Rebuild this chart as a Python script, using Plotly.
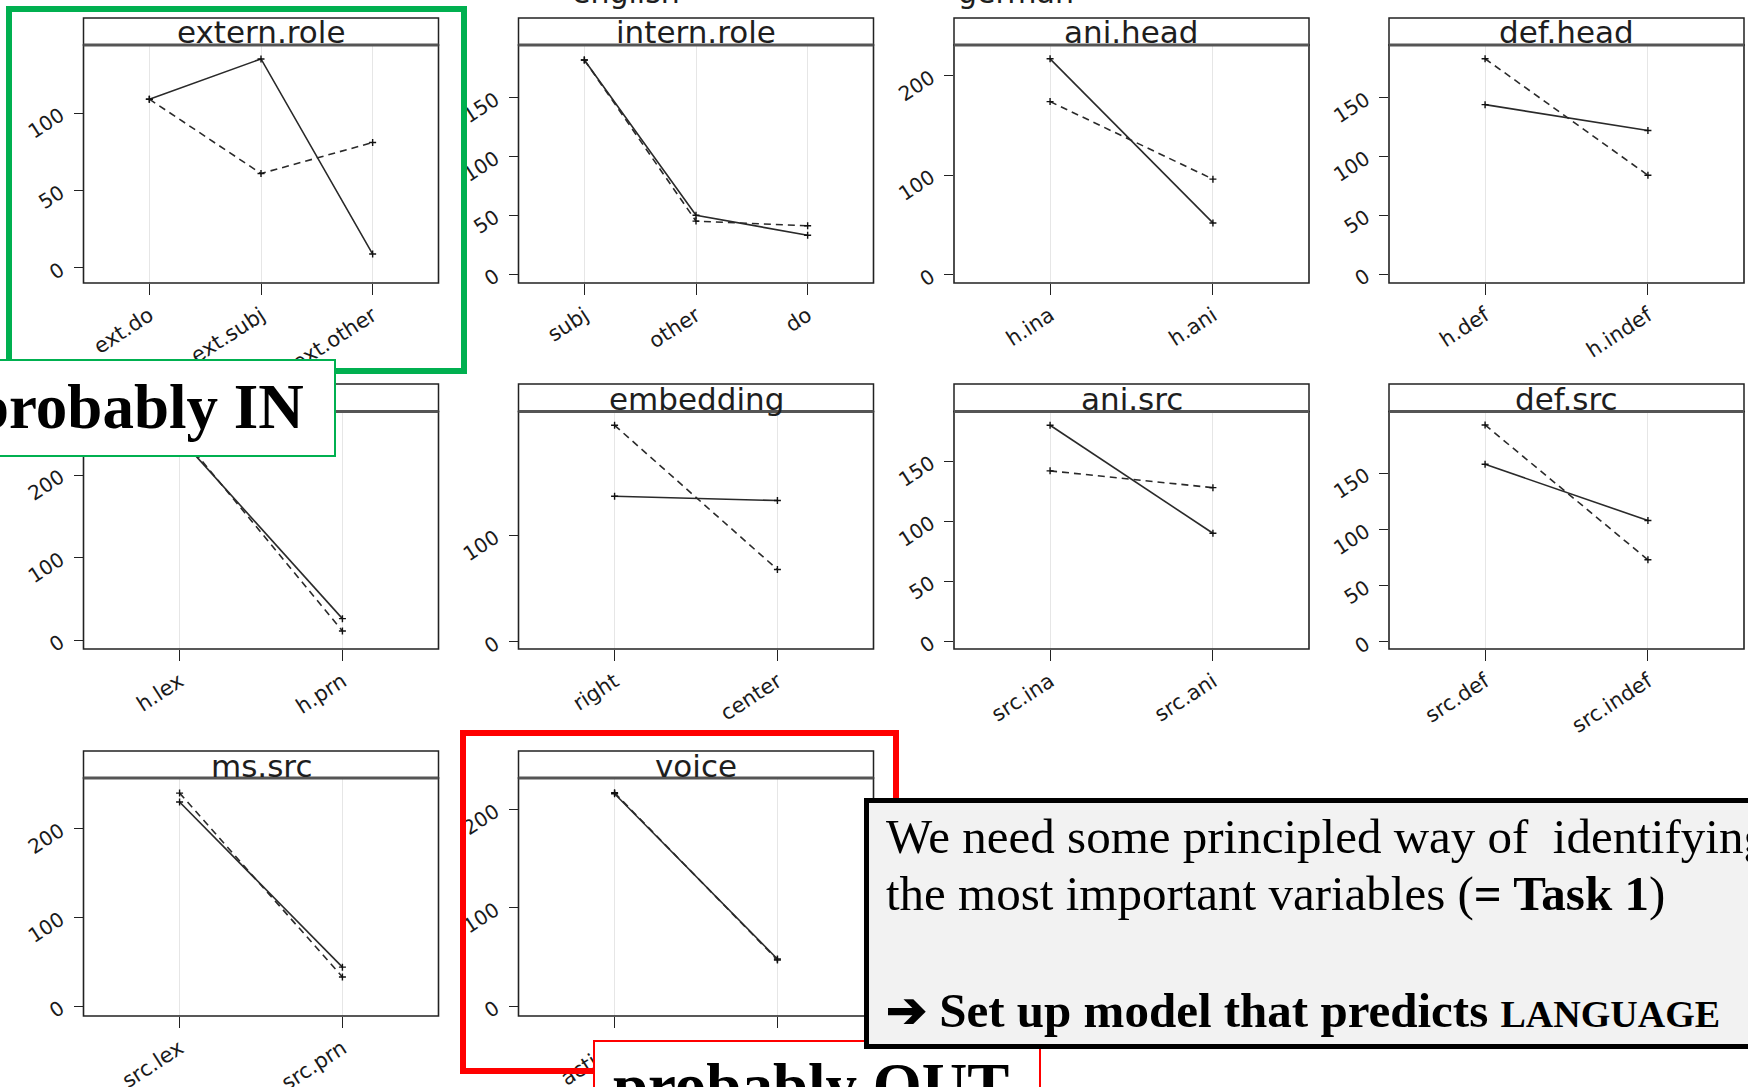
import plotly.graph_objects as go

W, H = 1748, 1087

# ---------------- data ----------------
panel_names = ["extern.role", "intern.role", "ani.head", "def.head",
               "ms.head", "embedding", "ani.src", "def.src",
               "ms.src", "voice"]
categories = [["ext.do", "ext.subj", "ext.other"],
              ["subj", "other", "do"],
              ["h.ina", "h.ani"],
              ["h.def", "h.indef"],
              ["h.lex", "h.prn"],
              ["right", "center"],
              ["src.ina", "src.ani"],
              ["src.def", "src.indef"],
              ["src.lex", "src.prn"],
              ["active", "passive"]]
english = [[109, 135, 9], [182, 50, 33], [217, 52], [144, 122], [245, 26],
           [137, 133], [180, 90], [158, 108], [230, 44], [216, 48]]
german = [[109, 61, 81], [182, 45, 41], [174, 96], [183, 84], [250, 11],
          [204, 68], [142, 128], [193, 73], [240, 33], [217, 47]]
y_ticks = [[0, 50, 100], [0, 50, 100, 150], [0, 100, 200], [0, 50, 100, 150],
           [0, 100, 200], [0, 100], [0, 50, 100, 150], [0, 50, 100, 150],
           [0, 100, 200], [0, 100, 200]]
legend_labels = ["english", "german"]

# ---------------- layout geometry (pixels) ----------------
y_ranges = [[-9.7, 144], [-7.6, 194.7], [-8.4, 230.9], [-7.6, 194.7],
            [-10.8, 277], [-7, 217], [-6.5, 191.5], [-6.4, 205],
            [-11, 257], [-10, 232]]
cols = [(83.5, 438.5), (518.5, 873.5), (954, 1309), (1389, 1744)]
rows = [(18, 45, 283), (384, 411.5, 649), (751, 778, 1016)]
grid_pos = [(0, 0), (0, 1), (0, 2), (0, 3), (1, 0), (1, 1), (1, 2), (1, 3),
            (2, 0), (2, 1)]

LINE_COL = "#2a2a2a"
XTICK_FONT = dict(family="DejaVu Sans", size=21, color="#1a1a1a")
YTICK_FONT = dict(family="DejaVu Sans", size=20, color="#1a1a1a")

fig = go.Figure()
shapes = []
annotations = []
layout = {}


def px(x):
    return x / W


def py(y):
    return 1 - y / H


for i, name in enumerate(panel_names):
    k = i + 1
    sfx = "" if k == 1 else str(k)
    r, c = grid_pos[i]
    x0, x1 = cols[c]
    st, sb, pb = rows[r]
    cats = categories[i]
    n = len(cats)

    for vals, dash in ((english[i], "solid"), (german[i], "7px,5px")):
        fig.add_trace(go.Scatter(
            x=cats, y=vals, xaxis="x" + sfx, yaxis="y" + sfx,
            mode="lines+markers",
            line=dict(color=LINE_COL, width=1.6, dash=dash),
            marker=dict(symbol="cross-thin", size=5,
                        line=dict(color="#111", width=1.4)),
            showlegend=False, hoverinfo="skip"))

    layout["xaxis" + sfx] = dict(
        domain=[px(x0), px(x1)], anchor="y" + sfx, type="category",
        categoryorder="array", categoryarray=cats,
        range=[-0.59, n - 1 + 0.59],
        showgrid=True, gridcolor="#e6e6e6", gridwidth=1,
        zeroline=False, showline=False,
        ticks="outside", ticklen=11, tickwidth=1.3, tickcolor="#222",
        tickangle=-33, tickfont=XTICK_FONT, automargin=False,
        ticklabelstandoff=0, fixedrange=True)
    layout["yaxis" + sfx] = dict(
        domain=[py(pb), py(sb)], anchor="x" + sfx,
        range=y_ranges[i], tickvals=y_ticks[i],
        showgrid=False, zeroline=False, showline=False,
        ticks="outside", ticklen=9, tickwidth=1.3, tickcolor="#222",
        tickangle=-33, tickfont=YTICK_FONT, automargin=False,
        ticklabelstandoff=9, fixedrange=True)

    # panel border
    shapes.append(dict(type="rect", xref="paper", yref="paper",
                       x0=px(x0), x1=px(x1), y0=py(pb), y1=py(sb),
                       line=dict(color="#222", width=1.6), layer="above"))
    # strip
    shapes.append(dict(type="rect", xref="paper", yref="paper",
                       x0=px(x0), x1=px(x1), y0=py(sb), y1=py(st),
                       fillcolor="white",
                       line=dict(color="#222", width=1.5), layer="above"))
    shapes.append(dict(type="line", xref="paper", yref="paper",
                       x0=px(x0), x1=px(x1), y0=py(sb), y1=py(sb),
                       line=dict(color="#555", width=3), layer="above"))
    annotations.append(dict(
        xref="paper", yref="paper", x=px((x0 + x1) / 2), y=py(sb - 12.5),
        xanchor="center", yanchor="middle", text=name, showarrow=False,
        font=dict(family="DejaVu Sans", size=31, color="#1e1e1e"),
        borderpad=0))

# legend labels (mostly above the visible area)
for lab, cx in zip(legend_labels, (626, 1016)):
    annotations.append(dict(
        xref="paper", yref="paper", x=px(cx), y=py(-7.4),
        xanchor="center", yanchor="middle", text=lab, showarrow=False,
        font=dict(family="DejaVu Sans", size=30, color="#1e1e1e"),
        borderpad=0))

# green and red frames
shapes.append(dict(type="rect", xref="paper", yref="paper",
                   x0=px(9), x1=px(464), y0=py(371), y1=py(9),
                   line=dict(color="#00b050", width=6), layer="above"))
shapes.append(dict(type="rect", xref="paper", yref="paper",
                   x0=px(463), x1=px(896), y0=py(1071), y1=py(733),
                   line=dict(color="#ff0000", width=6), layer="above"))


def box(x0, y0, x1, y1, bw, color, fill):
    return dict(xref="paper", yref="paper", x=px(x0), y=py(y0),
                xanchor="left", yanchor="top", text=" ", showarrow=False,
                width=x1 - x0 - 2 * bw, height=y1 - y0 - 2 * bw,
                borderwidth=bw, bordercolor=color, bgcolor=fill, borderpad=0)


SERIF = "Liberation Serif, DejaVu Serif, serif"

# "probably IN"
annotations.append(box(-30, 359, 336, 457, 2, "#00b050", "white"))
annotations.append(dict(xref="paper", yref="paper", x=px(305), y=py(407),
                        xanchor="right", yanchor="middle",
                        text="<b>probably IN</b>", showarrow=False,
                        borderpad=0,
                        font=dict(family=SERIF, size=63, color="black")))
# "probably OUT"
annotations.append(box(593, 1040, 1041, 1110, 2, "#ff0000", "white"))
annotations.append(dict(xref="paper", yref="paper", x=px(612), y=py(1086),
                        xanchor="left", yanchor="middle",
                        text="<b>probably OUT</b>", showarrow=False,
                        borderpad=0,
                        font=dict(family=SERIF, size=63, color="black")))
# black text box
annotations.append(box(864, 798, 1800, 1049, 5, "black", "#f2f2f2"))
text_lines = [
    ("We need some principled way of&nbsp;&nbsp;identifying", 836),
    ("the most important variables (<b>= Task 1</b>)", 893),
    ("<b>➔ Set up model that predicts "
     "<span style='font-size:38px'>LANGUAGE</span></b>", 1010),
]
for txt, cy in text_lines:
    annotations.append(dict(xref="paper", yref="paper", x=px(885), y=py(cy),
                            xanchor="left", yanchor="middle", text=txt,
                            showarrow=False, borderpad=0,
                            font=dict(family=SERIF, size=49, color="black")))

fig.update_layout(
    width=W, height=H, margin=dict(l=0, r=0, t=0, b=0),
    paper_bgcolor="white", plot_bgcolor="white", showlegend=False,
    shapes=shapes, annotations=annotations, **layout)

fig.write_html("out.html", config={"displayModeBar": False})
